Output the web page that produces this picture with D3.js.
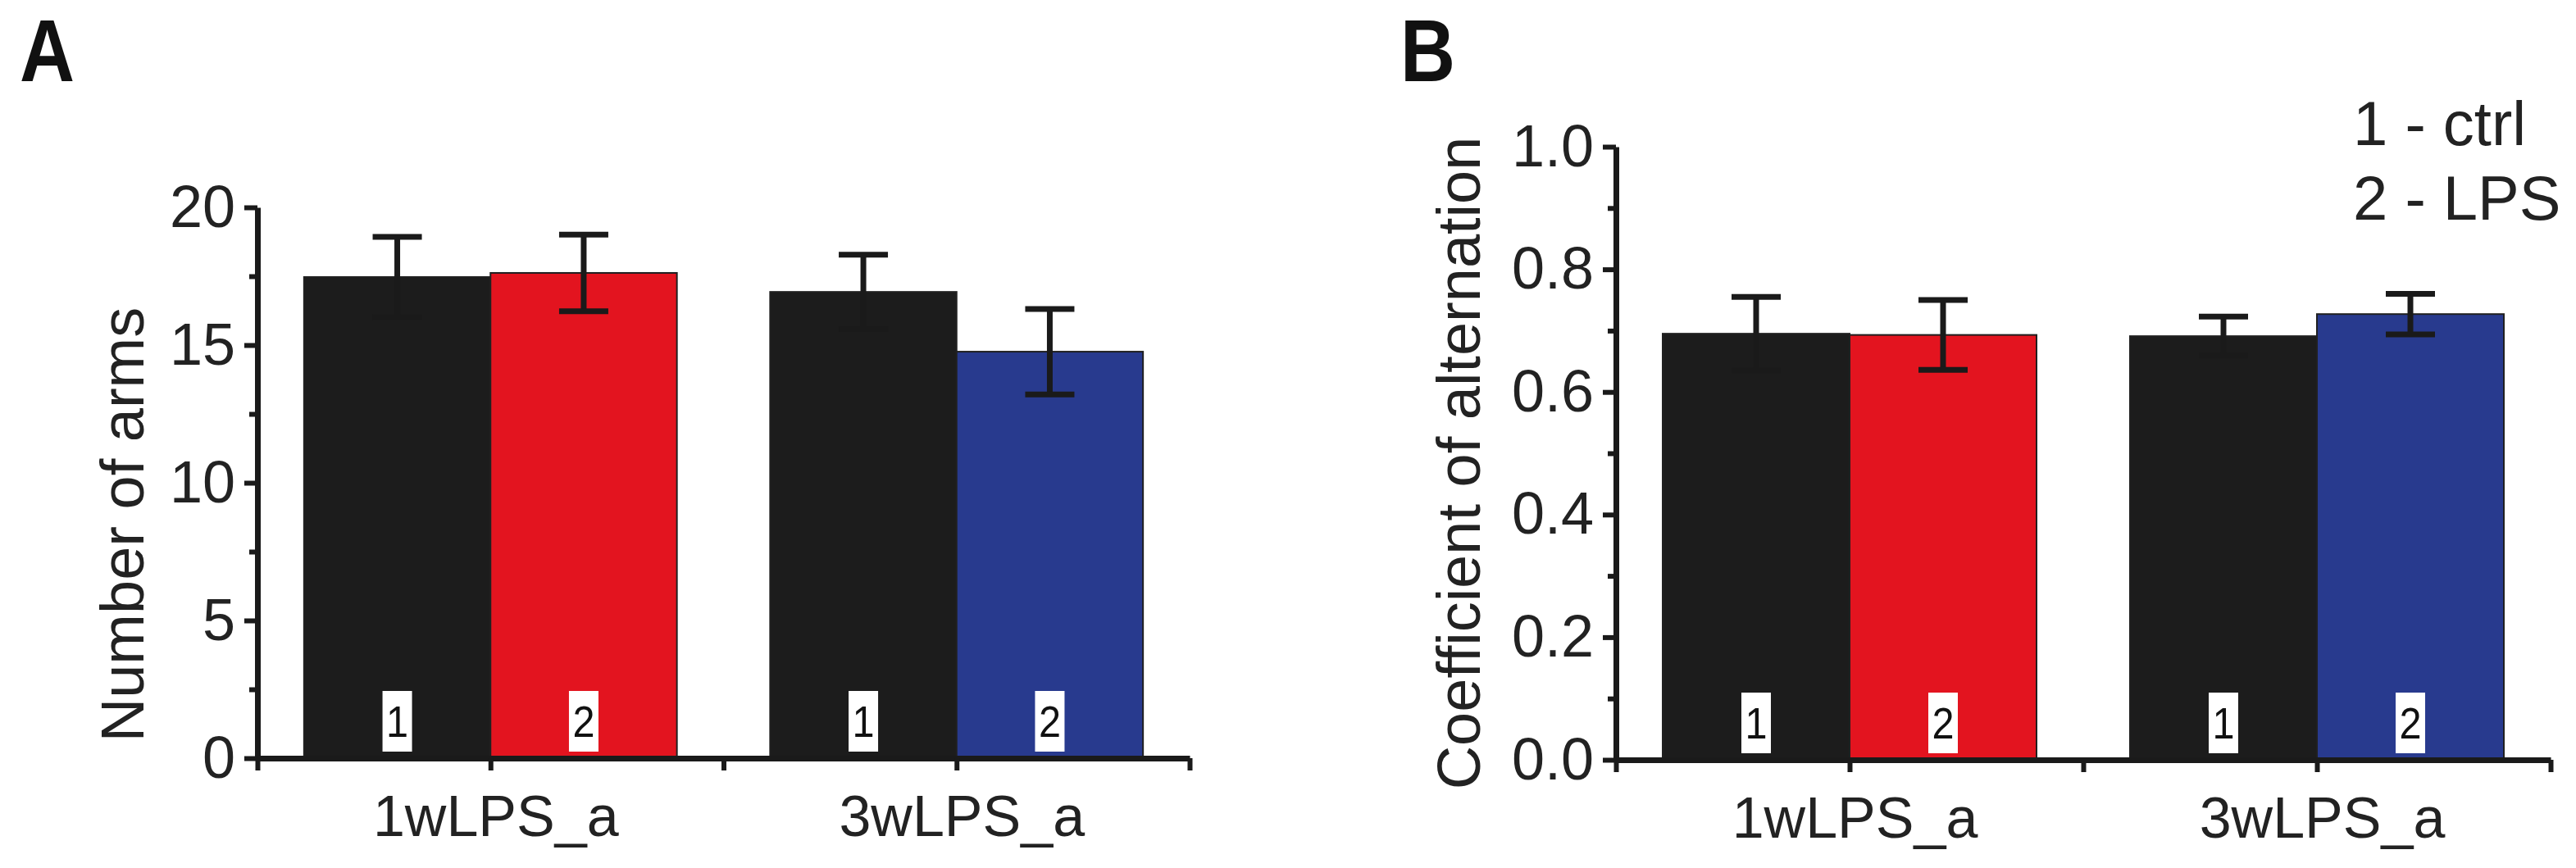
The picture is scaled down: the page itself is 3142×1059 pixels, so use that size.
<!DOCTYPE html>
<html>
<head>
<meta charset="utf-8">
<script src="https://cdn.jsdelivr.net/npm/d3@7"></script>
<style>
  body { margin: 0; background: #fff; }
  svg { display: block; }
  .tick text { font-family: "Liberation Sans", Arial, sans-serif; fill: #222; }
</style>
</head>
<body>
<svg width="3142" height="1059"></svg>
<script>
// groups on the x axis
var groups = ["1wLPS_a", "3wLPS_a"];
var groupPos = [1, 3];

// panel A - number of arms (ctrl = 1, LPS = 2)
var armsCtrl = [17.47, 16.93];
var armsCtrlErr = [1.46, 1.35];
var armsLps = [17.62, 14.76];
var armsLpsErr = [1.39, 1.55];

// panel B - coefficient of alternation
var altCtrl = [0.695, 0.691];
var altCtrlErr = [0.060, 0.032];
var altLps = [0.693, 0.727];
var altLpsErr = [0.057, 0.033];

var lpsColors = ["#e3141f", "#283a8e"];
var ctrlColor = "#1c1c1c";

var armTicks = [0, 5, 10, 15, 20];
var altTicks = [0, 0.2, 0.4, 0.6, 0.8, 1.0];

var svg = d3.select("svg");
var ink = "#1a1a1a";

// one panel
function panel(opt) {
  var g = svg.append("g");

  var x = d3.scaleLinear().domain([0, 4]).range([opt.left, opt.right]);
  var y = d3.scaleLinear().domain(opt.domain).range([opt.bottom, opt.top]);

  // bars: ctrl on the left of each group, LPS on the right
  var bars = [];
  groups.forEach(function(name, i) {
    bars.push({x0: groupPos[i] - 0.8, v: opt.ctrl[i], e: opt.ctrlErr[i], fill: ctrlColor, num: "1"});
    bars.push({x0: groupPos[i], v: opt.lps[i], e: opt.lpsErr[i], fill: lpsColors[i], num: "2"});
  });

  g.selectAll("rect.bar")
    .data(bars)
    .enter().append("rect")
      .attr("class", "bar")
      .attr("x", function(d) { return x(d.x0); })
      .attr("width", function(d) { return x(d.x0 + 0.8) - x(d.x0); })
      .attr("y", function(d) { return y(d.v); })
      .attr("height", function(d) { return y(opt.domain[0]) - y(d.v); })
      .attr("fill", function(d) { return d.fill; })
      .attr("stroke", "#202020")
      .attr("stroke-width", 2);

  // error bars
  var eb = g.selectAll("g.err")
    .data(bars)
    .enter().append("g")
      .attr("class", "err")
      .attr("stroke", ink)
      .attr("stroke-width", 7);
  eb.append("line")
    .attr("x1", function(d) { return x(d.x0 + 0.4); })
    .attr("x2", function(d) { return x(d.x0 + 0.4); })
    .attr("y1", function(d) { return y(d.v + d.e); })
    .attr("y2", function(d) { return y(d.v - d.e); });
  eb.selectAll("line.cap")
    .data(function(d) { return [d.v + d.e, d.v - d.e].map(function(v) { return {c: d.x0 + 0.4, v: v}; }); })
    .enter().append("line")
      .attr("class", "cap")
      .attr("x1", function(d) { return x(d.c) - 30; })
      .attr("x2", function(d) { return x(d.c) + 30; })
      .attr("y1", function(d) { return y(d.v); })
      .attr("y2", function(d) { return y(d.v); });

  // number boxes at the foot of each bar
  var nb = g.selectAll("g.num")
    .data(bars)
    .enter().append("g")
      .attr("class", "num")
      .attr("transform", function(d) { return "translate(" + x(d.x0 + 0.4) + "," + (y(opt.domain[0]) - 45) + ")"; });
  nb.append("rect")
    .attr("x", -18).attr("y", -37)
    .attr("width", 36).attr("height", 74)
    .attr("fill", "#fff");
  nb.append("text")
    .attr("text-anchor", "middle")
    .attr("dy", "0.36em")
    .attr("transform", "scale(0.9,1)")
    .style("font-family", "'Liberation Sans', sans-serif")
    .style("font-size", "54px")
    .attr("fill", "#111")
    .text(function(d) { return d.num; });

  // y axis: major and minor ticks
  var yAxis = g.append("g")
    .attr("transform", "translate(" + opt.left + ",0)")
    .call(d3.axisLeft(y).tickValues(opt.ticks).tickFormat(opt.fmt)
      .tickSize(16).tickSizeOuter(0).tickPadding(11));
  g.append("g")
    .attr("transform", "translate(" + opt.left + ",0)")
    .call(d3.axisLeft(y).tickValues(opt.minor).tickFormat("").tickSize(10).tickSizeOuter(0))
    .select(".domain").remove();

  // x axis
  var xAxis = g.append("g")
    .attr("transform", "translate(0," + opt.bottom + ")")
    .call(d3.axisBottom(x).tickValues([0, 1, 2, 3, 4])
      .tickFormat(function(v) { var i = groupPos.indexOf(v); return i < 0 ? "" : groups[i]; })
      .tickSize(15).tickSizeOuter(0).tickPadding(30));

  g.selectAll(".domain").attr("stroke", ink).attr("stroke-width", 7);
  g.selectAll(".tick line").attr("stroke", ink).attr("stroke-width", 6);
  yAxis.selectAll(".tick text").style("font-size", "72px");
  xAxis.selectAll(".tick text")
    .style("font-size", "70px")
    .attr("dx", 6);

  // y title
  g.append("text")
    .attr("transform", "translate(" + opt.titleX + "," + opt.titleY + ") rotate(-90)")
    .attr("text-anchor", "middle")
    .style("font-family", "'Liberation Sans', Arial, sans-serif")
    .style("font-size", "74px")
    .attr("fill", "#222")
    .text(opt.title);

  // panel letter (bold, slightly condensed)
  g.append("text")
    .attr("transform", "translate(" + opt.letterX + ",99) scale(0.86,1)")
    .style("font-family", "'Liberation Sans', Arial, sans-serif")
    .style("font-weight", "bold")
    .style("font-size", "108px")
    .attr("fill", "#111")
    .text(opt.letter);
}

panel({
  letter: "A", letterX: 24,
  left: 314, right: 1451, top: 253, bottom: 925,
  domain: [0, 20], ticks: armTicks, minor: [2.5, 7.5, 12.5, 17.5],
  fmt: d3.format("d"),
  ctrl: armsCtrl, ctrlErr: armsCtrlErr, lps: armsLps, lpsErr: armsLpsErr,
  title: "Number of arms", titleX: 175, titleY: 640
});

panel({
  letter: "B", letterX: 1708,
  left: 1971, right: 3111, top: 179, bottom: 927,
  domain: [0, 1], ticks: altTicks, minor: [0.1, 0.3, 0.5, 0.7, 0.9],
  fmt: d3.format(".1f"),
  ctrl: altCtrl, ctrlErr: altCtrlErr, lps: altLps, lpsErr: altLpsErr,
  title: "Coefficient of alternation", titleX: 1805, titleY: 565
});

// legend
var legendLines = ["1 - ctrl", "2 - LPS"];
svg.append("g").selectAll("text")
  .data(legendLines)
  .enter().append("text")
    .attr("x", 2870)
    .attr("y", function(d, i) { return 177 + i * 91; })
    .style("font-family", "'Liberation Sans', Arial, sans-serif")
    .style("font-size", "76px")
    .attr("fill", "#222")
    .text(function(d) { return d; });
</script>
</body>
</html>
